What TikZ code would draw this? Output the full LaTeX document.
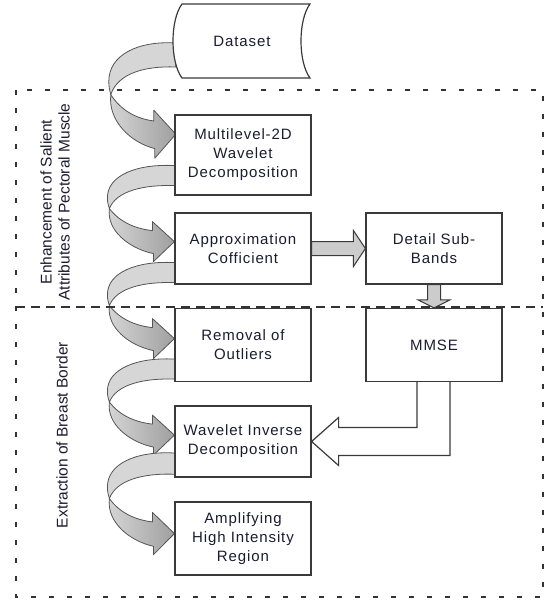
\documentclass[tikz,border=0pt]{standalone}
\usepackage{fontspec}
\newfontfamily\boxfont{Liberation Sans}[LetterSpace=6]
\newfontfamily\labfont{Liberation Sans}
\usetikzlibrary{calc,backgrounds}
\definecolor{boxc}{HTML}{3A3A3A}
\definecolor{txtc}{HTML}{1C1C30}
\definecolor{ribA}{HTML}{D6D6D6}
\definecolor{ribB}{HTML}{A0A0A0}
\definecolor{ribline}{HTML}{555555}
\definecolor{garr}{HTML}{CCCCCC}
\definecolor{dashc}{HTML}{333333}
\newcommand{\loopar}[2]{%
  \begin{scope}[shift={#1}, yscale=#2]
    \draw[ribbon, fill=ribA] (0,-10) .. controls (-38,-12) and (-67,0) .. (-67,22)
      .. controls (-67,27) and (-66,30) .. (-65,33)
      .. controls (-58,15) and (-30,9) .. (0,10) -- cycle;
    \draw[ribbon, left color=ribA, right color=ribB] (-65,33)
      .. controls (-55,46) and (-40,53) .. (-22,55) -- (-22,46) -- (0,66) -- (-21,86) -- (-21,78)
      .. controls (-45,73) and (-68,55) .. (-65,33) -- cycle;
  \end{scope}}
\begin{document}
\begin{tikzpicture}[x=1pt,y=-1pt,
  box/.style={draw=boxc, line width=1.2pt, fill=white, minimum width=136pt,
    align=center, inner sep=0pt, text=txtc,
    font=\boxfont\fontsize{15}{19}\selectfont},
  lab/.style={align=center, inner sep=0pt, text=txtc,
    font=\labfont\fontsize{15.5}{18}\selectfont},
  ribbon/.style={draw=ribline, line width=0.8pt, line join=round},
  garrow/.style={draw=boxc, line width=1pt, fill=garr, line join=miter},
  warrow/.style={draw=boxc, line width=1.2pt, fill=white, line join=miter},
  outerdash/.style={draw=dashc, line width=2pt, dash pattern=on 5pt off 13pt},
  middash/.style={draw=dashc, line width=2pt, dash pattern=on 9pt off 6pt}]
\useasboundingbox (0,0) rectangle (548,600);

% dataset shape
\draw[draw=boxc, line width=1.2pt, fill=white] (182,4) -- (310,4)
  .. controls (298,20) and (298,62) .. (310,78) -- (182,78)
  .. controls (170,62) and (170,20) .. (182,4) -- cycle;
\node[text=txtc, font=\boxfont\fontsize{15}{19}\selectfont, inner sep=0pt,
  minimum width=136pt, minimum height=74pt] (ds) at (242,41) {Dataset};

% boxes
\node[box, minimum height=80pt] (ml) at (243,155) {Multilevel-2D\\Wavelet\\Decomposition};
\node[box, minimum height=71pt] (ac) at (243,248.5) {Approximation\\Cofficient};
\node[box, minimum height=71pt] (db) at (434,248.5) {Detail Sub-\\Bands};
\node[box, minimum height=73pt] (ro) at (243,345) {Removal of\\Outliers};
\node[box, minimum height=73pt] (mm) at (434,345) {MMSE};
\node[box, minimum height=71pt] (wi) at (243,441.5) {Wavelet Inverse\\Decomposition};
\node[box, minimum height=73pt] (am) at (243,538.5) {Amplifying\\High Intensity\\Region};

% curved ribbon arrows (behind the boxes)
\begin{scope}[on background layer]
\loopar{($(ds.west)+(2,14)$)}{1.2}
\loopar{($(ml.south west)+(0,-20)$)}{1}
\loopar{($(ac.south west)+(0,-12)$)}{1}
\loopar{($(ro.south west)+(0,-13)$)}{1}
\loopar{($(wi.south west)+(0,-14)$)}{1.06}
\end{scope}

% straight gray arrows
\draw[garrow] ($(ac.east)+(0,-7)$) -- ($(db.west)+(-12,-7)$) -- ($(db.west)+(-12,-18)$)
  -- (db.west) -- ($(db.west)+(-12,18)$) -- ($(db.west)+(-12,7)$) -- ($(ac.east)+(0,7)$) -- cycle;
\draw[garrow] ($(db.south)+(-6.5,0)$) -- ($(mm.north)+(-6.5,-8)$) -- ($(mm.north)+(-16,-8)$)
  -- (mm.north) -- ($(mm.north)+(16,-8)$) -- ($(mm.north)+(6.5,-8)$) -- ($(db.south)+(6.5,0)$) -- cycle;

% white bent arrow MMSE -> Wavelet Inverse
\draw[warrow] ($(mm.south)+(-17,0)$) -- ($(mm.south |- wi.east)+(-17,-14)$)
  -- ($(wi.east)+(27,-14)$) -- ($(wi.east)+(27,-24)$) -- (wi.east)
  -- ($(wi.east)+(27,24)$) -- ($(wi.east)+(27,14)$)
  -- ($(mm.south |- wi.east)+(16,14)$) -- ($(mm.south)+(16,0)$);

% region borders
\draw[outerdash] (16,90) rectangle (543,597);
\draw[middash] (16,307) -- (543,307);

% side labels
\node[lab, rotate=90] (l1) at (55,202) {Enhancement of Salient\\Attributes of Pectoral Muscle};
\node[lab, rotate=90] (l2) at (62,435) {Extraction of Breast Border};
\end{tikzpicture}
\end{document}
